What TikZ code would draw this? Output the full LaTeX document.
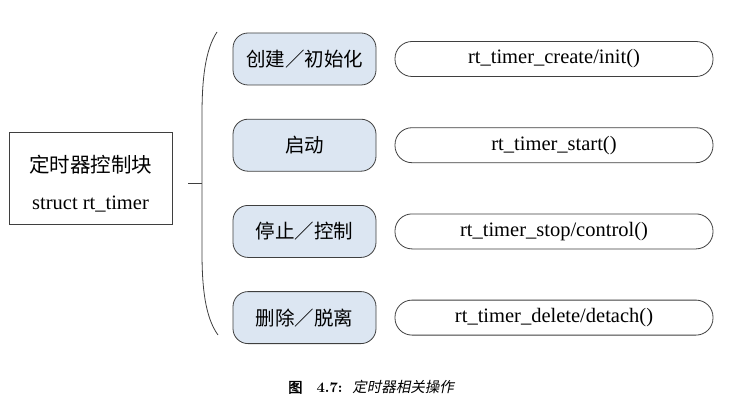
\documentclass[tikz,border=0pt]{standalone}
\usepackage{fontspec}
\setmainfont{Liberation Serif}
\newfontfamily\cjk{Noto Sans CJK SC}
\newfontfamily\cjkbold[FakeBold=2]{Noto Sans CJK SC}
\newfontfamily\cjkslant[FakeSlant=0.2]{Noto Sans CJK SC}
\newfontfamily\lmbold{lmroman10-bold}[Extension=.otf]
\definecolor{opfill}{HTML}{DCE6F2}
\definecolor{opline}{HTML}{3F3F3F}
\tikzset{
  ctrlbox/.style={draw=opline, thick, minimum width=163pt, minimum height=92pt, inner sep=0pt},
  ctrltext/.style={inner sep=0pt, align=center, font=\fontsize{20.5}{37}\selectfont},
  opbox/.style={draw=opline, thick, fill=opfill, rounded corners=15pt, minimum width=143pt, minimum height=52pt, inner sep=0pt, font=\cjk\fontsize{19.5}{21}\selectfont},
  apibox/.style={draw=opline, thick, rounded corners=17pt, minimum width=318pt, minimum height=35pt, inner sep=0pt, font=\fontsize{20.5}{22}\selectfont},
}
\begin{document}
\begin{tikzpicture}[x=1pt, y=-1pt]
  \useasboundingbox (0,0) rectangle (754,406);
  \node[ctrlbox] (ctrl) at (90.5,178) {};
  \node[ctrltext] (ctrllabel) at ([yshift=-5.5pt]ctrl.center) {{\cjk 定时器控制块}\\struct rt\_timer};
  % bracket
  \draw[opline, thick] (217,32) .. controls (205,50) and (202,80) .. (202,115) -- (202,252) .. controls (202,287) and (205,317) .. (218,335);
  \coordinate (bracemid) at (202,183.5);
  \coordinate (stem) at (188,183.5);
  \draw[opline, thick] (stem) -- (bracemid);
  \foreach \i/\op/\api in {1/{创建／初始化}/{rt\_timer\_create/init()},
                           2/{启动}/{rt\_timer\_start()},
                           3/{停止／控制}/{rt\_timer\_stop/control()},
                           4/{删除／脱离}/{rt\_timer\_delete/detach()}} {%
    \pgfmathsetmacro{\rowy}{59+86.2*(\i-1)}
    \node[opbox] (op\i) at (304.5,\rowy) {\op};
    \node[apibox] (api\i) at (554,\rowy) {\api};
  }
  \node (caption) at (371,387) {\fontsize{14.5}{16}\selectfont{\cjkbold 图}\hspace{14pt}{\lmbold 4.7:}\hspace{10pt}{\cjkslant 定时器相关操作}};
\end{tikzpicture}
\end{document}
